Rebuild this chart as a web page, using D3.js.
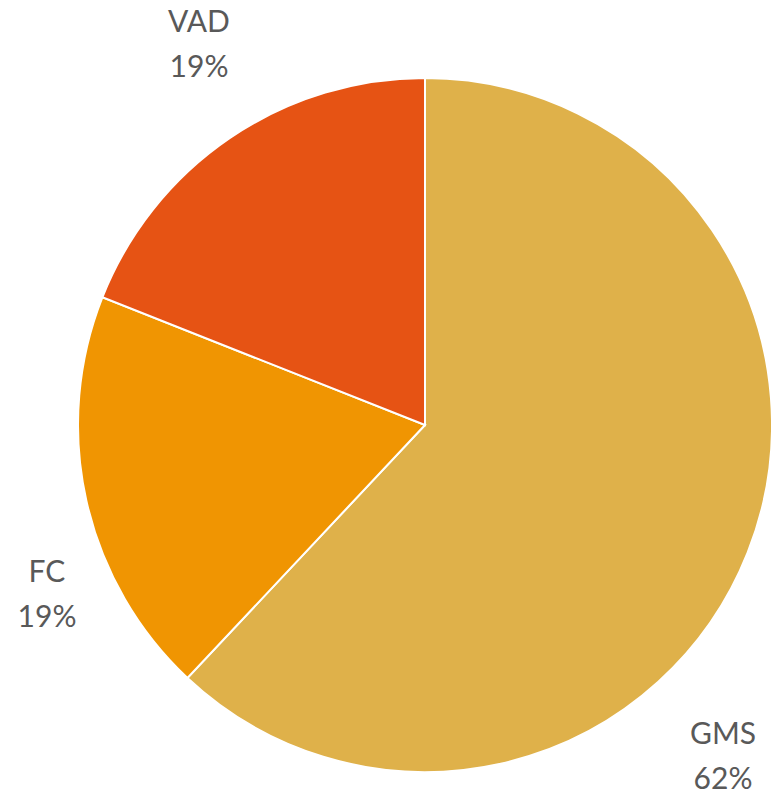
<!DOCTYPE html>
<html>
<head>
<meta charset="utf-8">
<script src="https://cdn.jsdelivr.net/npm/d3@7"></script>
<style>
  html, body { margin: 0; padding: 0; background: #ffffff; }
  svg { display: block; }
</style>
</head>
<body>
<svg id="chart" width="771" height="797"></svg>
<script>
// Share of each category (percent)
const categories = ["GMS", "FC", "VAD"];
const values = [62, 19, 19];
const colors = ["#DFB14A", "#F09502", "#E65314"];
const labelText = ["62%", "19%", "19%"];

const width = 771, height = 797;
const cx = 425, cy = 425, radius = 347;

// Label anchor offsets (from pie centre) for the best-fit outside labels
const labelOffsets = [[298, 331], [-378, 169], [-226, -381]];

const svg = d3.select("#chart");
const g = svg.append("g").attr("transform", `translate(${cx},${cy})`);

const data = categories.map((c, i) => ({ name: c, value: values[i], color: colors[i], pct: labelText[i], off: labelOffsets[i] }));

const pie = d3.pie().value(d => d.value).sort(null);
const arc = d3.arc().innerRadius(0).outerRadius(radius);
const arcs = pie(data);

g.selectAll("path.slice")
  .data(arcs)
  .join("path")
  .attr("class", "slice")
  .attr("d", arc)
  .attr("fill", d => d.data.color)
  .attr("stroke", "#ffffff")
  .attr("stroke-width", 2);

const labels = g.selectAll("g.label")
  .data(arcs)
  .join("g")
  .attr("class", "label")
  .attr("transform", d => `translate(${d.data.off[0]},${d.data.off[1]})`);

labels.append("text")
  .attr("text-anchor", "middle")
  .attr("y", -12)
  .attr("font-family", "Lato, 'Open Sans', sans-serif")
  .attr("font-size", 30)
  .attr("fill", "#595959")
  .text(d => d.data.name);

labels.append("text")
  .attr("text-anchor", "middle")
  .attr("y", 33)
  .attr("font-family", "Lato, 'Open Sans', sans-serif")
  .attr("font-size", 30)
  .attr("fill", "#595959")
  .text(d => d.data.pct);
</script>
</body>
</html>
